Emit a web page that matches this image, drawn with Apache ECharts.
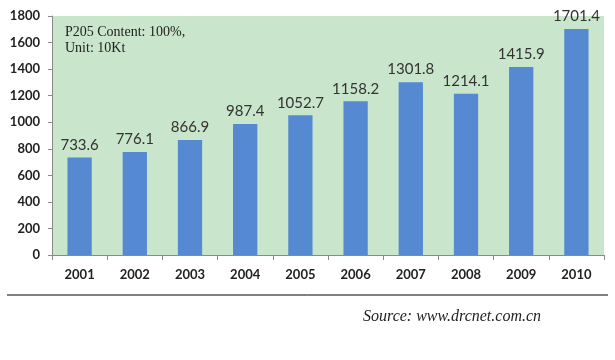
<!DOCTYPE html>
<html>
<head>
<meta charset="utf-8">
<script src="https://cdn.jsdelivr.net/npm/echarts@6/dist/echarts.min.js"></script>
<style>html,body{margin:0;padding:0;background:#fff}#c{width:615px;height:360px}</style>
</head>
<body>
<div id="c"></div>
<script>
const years = ['2001','2002','2003','2004','2005','2006','2007','2008','2009','2010'];
const output = [733.6, 776.1, 866.9, 987.4, 1052.7, 1158.2, 1301.8, 1214.1, 1415.9, 1701.4];
const yTicks = [0, 200, 400, 600, 800, 1000, 1200, 1400, 1600, 1800];
const noteLines = ['P205 Content: 100%,', 'Unit: 10Kt'];
const sourceText = 'Source: www.drcnet.com.cn';

const chart = echarts.init(document.getElementById('c'));
chart.setOption({
  animation: false,
  grid: { left: 52, right: 11, top: 16, bottom: 105, show: true, backgroundColor: '#C9E5CB', borderWidth: 0 },
  xAxis: {
    type: 'category', data: years,
    axisLine: { lineStyle: { color: '#8a8a8a', width: 1 } },
    axisTick: { show: true, length: 5, lineStyle: { color: '#8a8a8a' } },
    axisLabel: { margin: 13, fontFamily: 'Lato', fontSize: 13, fontWeight: 'bold', color: '#222' }
  },
  yAxis: {
    type: 'value', min: yTicks[0], max: yTicks[yTicks.length - 1], interval: 200,
    axisLine: { show: true, lineStyle: { color: '#8a8a8a', width: 1 } },
    axisTick: { show: true, length: 4, lineStyle: { color: '#8a8a8a' } },
    splitLine: { show: false },
    axisLabel: { margin: 12, fontFamily: 'Lato', fontSize: 13, fontWeight: 'bold', color: '#222',
      formatter: v => String(v) }
  },
  series: [{
    type: 'bar', data: output, barWidth: '44%',
    itemStyle: { color: '#5589D2' },
    label: { show: true, position: 'top', distance: 5, fontFamily: 'Lato', fontSize: 15, color: '#333',
      formatter: p => p.value.toFixed(1) }
  }],
  graphic: [
    { type: 'text', left: 65, top: 24, style: { text: noteLines.join('\n'), font: '14px "Liberation Serif"', lineHeight: 16, fill: '#222' } },
    { type: 'line', shape: { x1: 7, y1: 295, x2: 608, y2: 295 }, style: { stroke: '#000', lineWidth: 1 } },
    { type: 'text', left: 363, top: 309, style: { text: sourceText, font: 'italic 16px "Liberation Serif"', fill: '#222' } }
  ]
});
</script>
</body>
</html>
